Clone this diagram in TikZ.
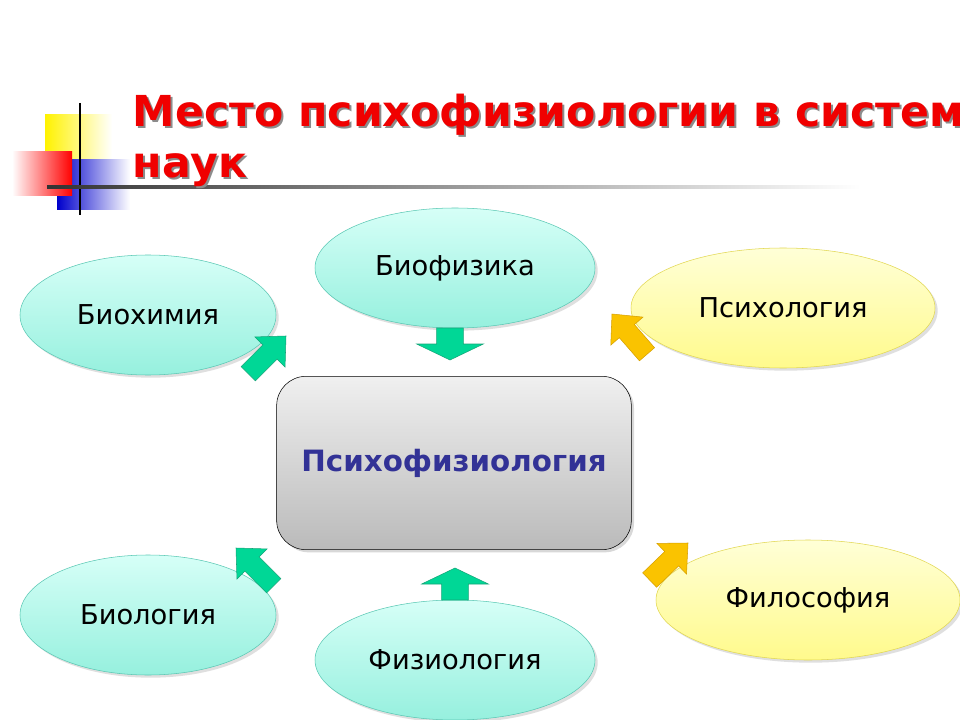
\documentclass[tikz,border=0pt]{standalone}
\usepackage{fontspec}
\setmainfont{DejaVu Sans}
\usetikzlibrary{shadows,shapes.geometric,calc}
\definecolor{aquatop}{RGB}{214,255,247}
\definecolor{aquabot}{RGB}{150,240,222}
\definecolor{aqualine}{RGB}{90,200,180}
\definecolor{yeltop}{RGB}{255,255,215}
\definecolor{yelbot}{RGB}{255,250,140}
\definecolor{yelline}{RGB}{225,215,80}
\definecolor{arrgreen}{RGB}{0,215,150}
\definecolor{arrgreenl}{RGB}{20,165,120}
\definecolor{arryel}{RGB}{250,195,0}
\definecolor{arryell}{RGB}{215,160,0}
\definecolor{titlered}{RGB}{240,0,0}
\definecolor{boxblue}{RGB}{50,50,150}
\tikzset{
  science/.style={ellipse,draw=aqualine,top color=aquatop,bottom color=aquabot,
    drop shadow={opacity=0.25,shadow xshift=2pt,shadow yshift=-2pt},font=\fontsize{20.5}{24}\selectfont},
  yscience/.style={science,draw=yelline,top color=yeltop,bottom color=yelbot},
  titletext/.style={anchor=base west,font=\fontsize{32}{38}\selectfont\bfseries},
}
% block arrow: tip at (#1,#2), direction #3, colour #4,
% head length #5, head half width #6, shaft half width #7, total length #8
\newcommand\blockarrow[8]{
  \coordinate (tip) at (#1,#2);
  \draw[fill=#4,draw=#4l] (tip)
    -- ($(tip)+(#3+180:#5)+(#3+90:#6)$) -- ($(tip)+(#3+180:#5)+(#3+90:#7)$)
    -- ($(tip)+(#3+180:#8)+(#3+90:#7)$) -- ($(tip)+(#3+180:#8)+(#3-90:#7)$)
    -- ($(tip)+(#3+180:#5)+(#3-90:#7)$) -- ($(tip)+(#3+180:#5)+(#3-90:#6)$) -- cycle;
}
\begin{document}
\begin{tikzpicture}[x=0.75pt,y=-0.75pt]
\useasboundingbox[clip] (0,0) rectangle (960,720);
\fill[white] (0,0) rectangle (960,720);
% corner decoration
\shade[left color=yellow!90!orange,right color=white] (45,115) rectangle (112,160);
\shade[left color=blue!80!black,right color=white] (57,160) rectangle (130,210);
\shade[left color=white,right color=red] (12,152) rectangle (72,196);
\draw[line width=1.5pt] (80,103) -- (80,215);
\shade[left color=black!80,right color=white] (47,186) rectangle (860,189);
% title
\node[titletext,text=black!45] at (130,129) {Место психофизиологии в систем};
\node[titletext,text=titlered] (title1) at (128,127) {Место психофизиологии в систем};
\node[titletext,text=black!45] at (130,180) {наук};
\node[titletext,text=titlered] (title2) at (128,178) {наук};
% centre
\node[draw,rounded corners=22pt,minimum width=266pt,minimum height=130pt,
  top color=black!6,bottom color=black!27,
  drop shadow={opacity=0.3,shadow xshift=2pt,shadow yshift=-2pt},
  text=boxblue,font=\fontsize{22}{26}\selectfont\bfseries] (psy) at (454,463) {Психофизиология};
% sciences
\node[science,minimum width=192pt,minimum height=90pt] (biochem) at (148,315) {Биохимия};
\node[science,minimum width=210pt,minimum height=90pt] (biophys) at (455,268) {Биофизика};
\node[yscience,minimum width=228pt,minimum height=90pt] (psych) at (783,308) {Психология};
\node[science,minimum width=192pt,minimum height=90pt] (biol) at (148,615) {Биология};
\node[science,minimum width=210pt,minimum height=90pt] (physiol) at (455,660) {Физиология};
\node[yscience,minimum width=228pt,minimum height=90pt] (philos) at (808,600) {Философия};
% arrows
\blockarrow{450}{360}{-90}{arrgreen}{12pt}{25pt}{10pt}{24pt}
\blockarrow{455}{568}{90}{arrgreen}{12pt}{25pt}{10pt}{24pt}
\blockarrow{286}{336}{45}{arrgreen}{17pt}{16pt}{7.5pt}{40pt}
\blockarrow{236}{548}{135}{arrgreen}{17pt}{16pt}{7.5pt}{40pt}
\blockarrow{612}{314}{131}{arryel}{17pt}{16pt}{7.5pt}{40pt}
\blockarrow{688}{543}{44}{arryel}{17pt}{16pt}{7.5pt}{40pt}
\end{tikzpicture}
\end{document}
